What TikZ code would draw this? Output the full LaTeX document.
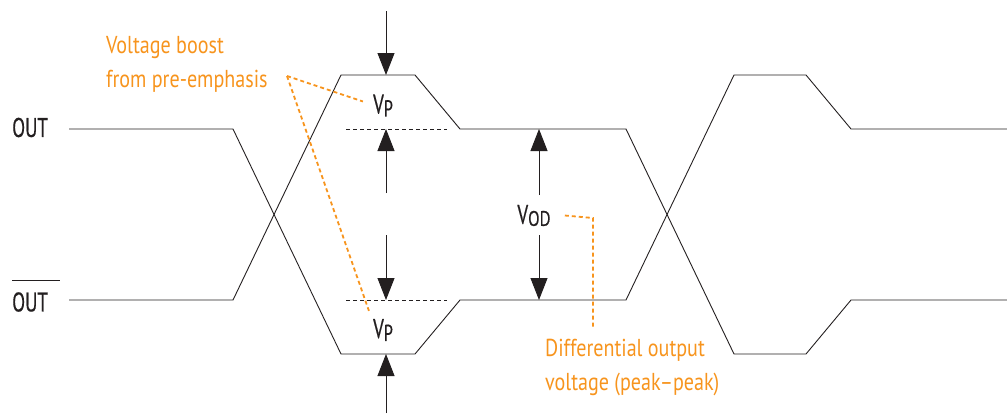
\documentclass[tikz,border=0pt]{standalone}
\usepackage{fontspec}
\setmainfont{PT Sans}
\newfontfamily\sigfont{PT Sans}[FakeStretch=0.70, FakeBold=0.4]
\newfontfamily\notefont{PT Sans}[FakeStretch=0.82]
\newfontfamily\subfont{PT Sans}[FakeStretch=0.80, FakeBold=0.3]
\usepackage{xcolor}
\usetikzlibrary{arrows.meta}
\definecolor{boost}{RGB}{247,148,29}
\definecolor{ink}{RGB}{35,31,32}

\begin{document}
\begin{tikzpicture}[x=1pt,y=-1pt,
  wave/.style={ink, line width=0.9pt},
  level/.style={ink, dash pattern=on 4pt off 3pt, line width=0.7pt},
  dim/.style={ink, line width=0.9pt, -{Triangle[width=17pt,length=22pt]}},
  leader/.style={boost, dash pattern=on 4pt off 3pt, line width=1.8pt},
  sig/.style={ink, font=\sigfont\fontsize{27}{30}\selectfont, inner sep=0pt},
  note/.style={boost, font=\notefont\fontsize{24.5}{34}\selectfont, align=left, inner sep=0pt}]
  \useasboundingbox (0,0) rectangle (1007,413);

  % signal names
  \node[sig, anchor=west] (out) at (12,127.5) {OUT};
  \node[sig, anchor=west] (outb) at (12,302) {OUT};
  \draw[ink, line width=0.9pt] ([yshift=11.5pt]outb.north west) -- ++(48,0);

  % the two outputs
  \draw[wave] (69,129) -- (233,129) -- (341,354) -- (415,354) -- (460,300)
    -- (626,300) -- (734,75) -- (806,75) -- (851,129) -- (1007,129);
  \draw[wave] (69,300) -- (233,300) -- (341,75) -- (415,75) -- (460,129)
    -- (626,129) -- (734,354) -- (806,354) -- (851,300) -- (1007,300);

  % steady levels
  \draw[level] (346,129) -- (447,129);
  \draw[level] (346,300) -- (447,300);

  % arrow ends
  \coordinate (ptop) at (386,11);
  \coordinate (phigh) at (386,75);
  \coordinate (pmidh) at (386,129);
  \coordinate (pfromh) at (386,193);
  \coordinate (pfroml) at (386,235);
  \coordinate (pmidl) at (386,300);
  \coordinate (plow) at (386,354);
  \coordinate (pbot) at (386,413);
  \coordinate (dfromh) at (539,195);
  \coordinate (dhigh) at (539,129);
  \coordinate (dfroml) at (539,235);
  \coordinate (dlow) at (539,300);

  \draw[dim] (ptop) -- (phigh);
  \draw[dim] (pfromh) -- (pmidh);
  \draw[dim] (pfroml) -- (pmidl);
  \draw[dim] (pbot) -- (plow);
  \draw[dim] (dfromh) -- (dhigh);
  \draw[dim] (dfroml) -- (dlow);

  % labels
  \node[sig] (vpt) at (383,105.5) {V\raisebox{-3pt}{\fontsize{23}{23}\selectfont P}};
  \node[sig] (vpb) at (383,330) {V\raisebox{-3pt}{\fontsize{23}{23}\selectfont P}};
  \node[sig] (vod) at (534,215.5) {V\raisebox{-2pt}{\subfont\fontsize{21}{21}\selectfont OD}};

  % notes
  \node[note, anchor=west] (boostnote) at (106,64) {Voltage boost\\from pre-emphasis};
  \node[note, anchor=west] (diffnote) at (545,368) {Differential output\\voltage (peak–peak)};

  \coordinate (bfrom) at (287,76);
  \coordinate (dcorner) at (593,218);
  \coordinate (dend) at (dcorner |- diffnote.north);
  \draw[leader] (bfrom) -- ([xshift=-10pt,yshift=4pt]vpt.west);
  \draw[leader] (bfrom) -- ([xshift=-4pt,yshift=8pt]vpb.north west);
  \draw[leader] ([xshift=14pt]vod.east) -- (dcorner) -- ([yshift=10pt]dend);
\end{tikzpicture}
\end{document}
